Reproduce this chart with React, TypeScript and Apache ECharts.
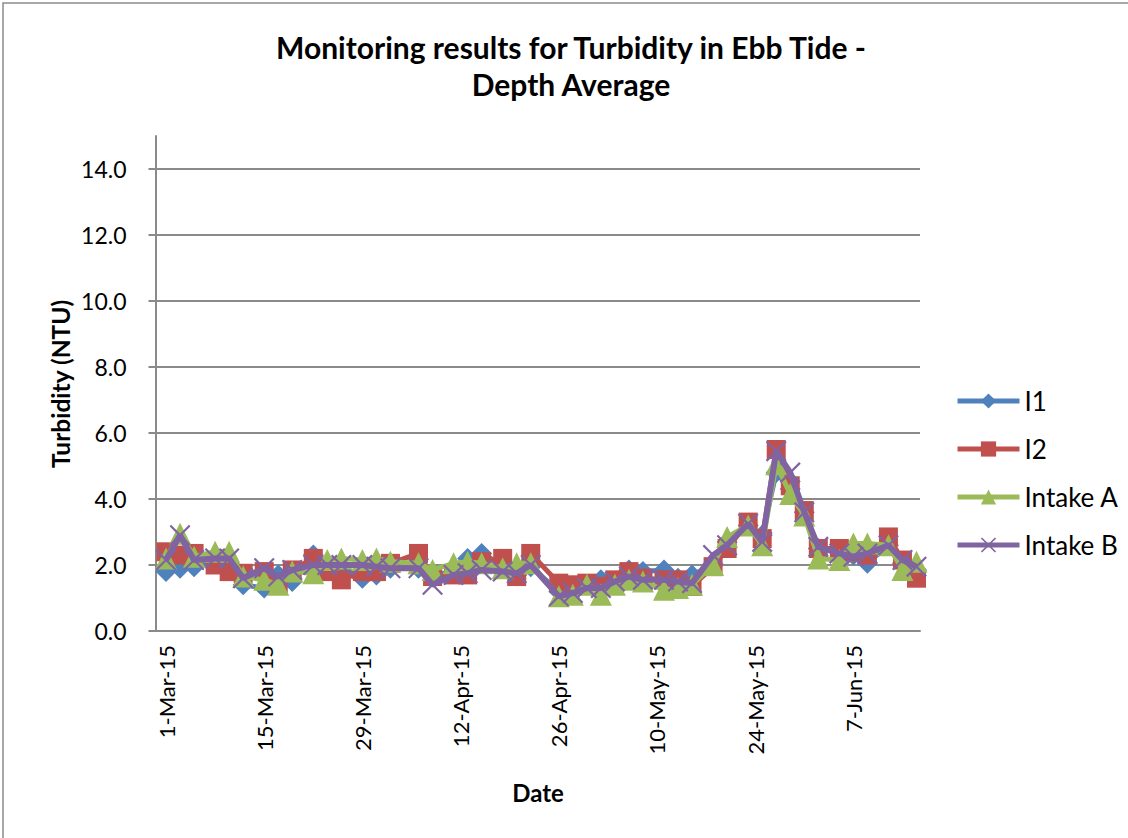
import React, { useEffect, useRef } from 'react';
import * as echarts from 'echarts';

// Sampling dates
const sampleDates = [
  '2015-03-01', '2015-03-03', '2015-03-05', '2015-03-08', '2015-03-10', '2015-03-12',
  '2015-03-15', '2015-03-17', '2015-03-19', '2015-03-22', '2015-03-24', '2015-03-26',
  '2015-03-29', '2015-03-31', '2015-04-02', '2015-04-06', '2015-04-08', '2015-04-11',
  '2015-04-13', '2015-04-15', '2015-04-18', '2015-04-20', '2015-04-22', '2015-04-26',
  '2015-04-28', '2015-04-30', '2015-05-02', '2015-05-04', '2015-05-06', '2015-05-08',
  '2015-05-11', '2015-05-13', '2015-05-15', '2015-05-18', '2015-05-20', '2015-05-23',
  '2015-05-25', '2015-05-27', '2015-05-29', '2015-05-31', '2015-06-02', '2015-06-05',
  '2015-06-07', '2015-06-09', '2015-06-12', '2015-06-14', '2015-06-16',
];

const seriesI1 = [
  1.8, 1.9, 1.95, 2.1, 2.05, 1.4, 1.3, 1.7, 1.5, 2.3, 1.95, 1.95,
  1.6, 1.7, 1.9, 1.9, 1.75, 1.75, 2.2, 2.35, 2.0, 1.7, 1.95, 1.2,
  1.25, 1.4, 1.55, 1.5, 1.85, 1.8, 1.85, 1.6, 1.7, 2.0, 2.7, 3.2,
  2.9, 4.8, 4.3, 3.6, 2.5, 2.45, 2.3, 2.05, 2.6, 2.05, 1.85,
];
const seriesI2 = [
  2.4, 2.3, 2.35, 2.0, 1.8, 1.75, 1.8, 1.4, 1.85, 2.2, 1.8, 1.55,
  1.8, 1.8, 2.05, 2.35, 1.65, 1.7, 1.7, 2.1, 2.2, 1.65, 2.35, 1.45,
  1.4, 1.45, 1.35, 1.55, 1.8, 1.6, 1.55, 1.55, 1.35, 1.95, 2.5, 3.3,
  2.8, 5.5, 4.4, 3.65, 2.5, 2.5, 2.4, 2.3, 2.85, 2.15, 1.6,
];
const seriesIntakeA = [
  2.2, 2.95, 2.25, 2.4, 2.4, 1.65, 1.55, 1.4, 1.8, 1.75, 2.15, 2.2,
  2.15, 2.2, 2.1, 2.05, 1.85, 2.05, 2.1, 2.05, 1.9, 2.05, 2.05, 1.05,
  1.1, 1.4, 1.1, 1.4, 1.55, 1.5, 1.25, 1.3, 1.4, 2.0, 2.85, 3.2,
  2.6, 5.05, 4.15, 3.5, 2.2, 2.15, 2.65, 2.65, 2.6, 1.85, 2.1,
];
const seriesIntakeB = [
  2.15, 2.9, 2.15, 2.2, 2.2, 1.6, 1.9, 1.65, 1.85, 2.0, 2.0, 2.0,
  2.0, 1.95, 1.9, 1.9, 1.4, 1.7, 1.75, 1.85, 1.8, 1.75, 2.0, 1.05,
  1.15, 1.3, 1.3, 1.5, 1.65, 1.55, 1.55, 1.5, 1.45, 2.3, 2.6, 3.25,
  2.7, 5.45, 4.8, 3.6, 2.55, 2.35, 2.25, 2.35, 2.6, 2.15, 1.95,
];

const seriesNames = ['I1', 'I2', 'Intake A', 'Intake B'];
const tickDates = [
  '2015-03-01', '2015-03-15', '2015-03-29', '2015-04-12',
  '2015-04-26', '2015-05-10', '2015-05-24', '2015-06-07',
];
const yTicks = [0, 2, 4, 6, 8, 10, 12, 14];

const BASE = Date.UTC(2015, 2, 1);
const DAY = 86400000;
const MONTHS = ['Jan', 'Feb', 'Mar', 'Apr', 'May', 'Jun', 'Jul', 'Aug', 'Sep', 'Oct', 'Nov', 'Dec'];
const toDay = (s: string) => {
  const [y, m, d] = s.split('-').map(Number);
  return Math.round((Date.UTC(y, m - 1, d) - BASE) / DAY);
};
const fmtDate = (v: number) => {
  const dt = new Date(BASE + Math.round(v) * DAY);
  return `${dt.getUTCDate()}-${MONTHS[dt.getUTCMonth()]}-${String(dt.getUTCFullYear()).slice(2)}`;
};

const X_SYMBOL =
  'path://M1.5,0L10,8.5L18.5,0L20,1.5L11.5,10L20,18.5L18.5,20L10,11.5L1.5,20L0,18.5L8.5,10L0,1.5Z';

const FONT = 'Lato, "Liberation Sans", sans-serif';
const GRID_COLOR = '#8a8a8a';

export default function App() {
  const ref = useRef<HTMLDivElement>(null);

  useEffect(() => {
    if (!ref.current) return;
    const chart = echarts.init(ref.current, undefined, { renderer: 'svg' });
    const days = sampleDates.map(toDay);
    const pair = (vals: number[]) => vals.map((v, i) => [days[i], v]);

    const colors = ['#4F81BD', '#C0504D', '#9BBB59', '#8064A2'];
    const symbols = ['diamond', 'rect', 'triangle', X_SYMBOL];
    const sizes = [21, 19, 22, 21];
    const widths = [5, 5, 5, 6];
    const values = [seriesI1, seriesI2, seriesIntakeA, seriesIntakeB];

    chart.setOption({
      animation: false,
      backgroundColor: '#ffffff',
      legend: {
        orient: 'vertical',
        left: 950,
        top: 381,
        itemWidth: 62,
        itemHeight: 19,
        itemGap: 18,
        data: seriesNames,
        lineStyle: { width: 5 },
        textStyle: { fontFamily: FONT, fontSize: 26, color: '#000', lineHeight: 30 },
      },
      grid: { left: 155.5, right: 208, top: 136, bottom: 207, containLabel: false },
      xAxis: {
        type: 'value',
        min: -1.5,
        max: 107.5,
        axisLine: { show: true, onZero: false, lineStyle: { color: GRID_COLOR, width: 2 } },
        axisTick: { show: false },
        splitLine: { show: false },
        axisLabel: {
          customValues: tickDates.map(toDay),
          formatter: (v: number) => fmtDate(v),
          rotate: 90,
          margin: 14,
          fontFamily: FONT,
          fontSize: 22,
          color: '#000',
        },
      },
      yAxis: {
        type: 'value',
        min: 0,
        max: 15,
        interval: 2,
        axisLine: { show: true, onZero: false, lineStyle: { color: GRID_COLOR, width: 2 } },
        axisTick: {
          show: true,
          length: 7,
          customValues: yTicks,
          lineStyle: { color: GRID_COLOR, width: 2 },
        },
        splitLine: { show: true, lineStyle: { color: GRID_COLOR, width: 2 } },
        axisLabel: {
          customValues: yTicks,
          formatter: (v: number) => v.toFixed(1),
          margin: 29,
          fontFamily: FONT,
          fontSize: 23,
          color: '#000',
        },
      },
      graphic: [
        {
          type: 'rect',
          shape: { x: 3, y: 3, width: 1140, height: 850 },
          style: { fill: 'none', stroke: '#8c8c8c', lineWidth: 1.5 },
          silent: true,
        },
        {
          type: 'text',
          x: 571,
          y: 47,
          style: {
            text: 'Monitoring results for Turbidity in Ebb Tide -',
            align: 'center',
            verticalAlign: 'middle',
            fontFamily: FONT,
            fontSize: 30,
            fontWeight: 'bold',
            fill: '#000',
          },
        },
        {
          type: 'text',
          x: 571,
          y: 84,
          style: {
            text: 'Depth Average',
            align: 'center',
            verticalAlign: 'middle',
            fontFamily: FONT,
            fontSize: 30,
            fontWeight: 'bold',
            fill: '#000',
          },
        },
        {
          type: 'text',
          x: 60,
          y: 384,
          rotation: Math.PI / 2,
          style: {
            text: 'Turbidity (NTU)',
            align: 'center',
            verticalAlign: 'middle',
            fontFamily: FONT,
            fontSize: 24.5,
            fontWeight: 'bold',
            fill: '#000',
          },
        },
        {
          type: 'text',
          x: 538,
          y: 792,
          style: {
            text: 'Date',
            align: 'center',
            verticalAlign: 'middle',
            fontFamily: FONT,
            fontSize: 24,
            fontWeight: 'bold',
            fill: '#000',
          },
        },
      ],
      series: seriesNames.map((name, k) => ({
        name,
        type: 'line',
        data: pair(values[k]),
        z: 2 + k,
        symbol: symbols[k],
        symbolSize: sizes[k],
        showSymbol: true,
        showAllSymbol: true,
        lineStyle: { color: colors[k], width: widths[k] },
        itemStyle: { color: colors[k] },
        emphasis: { disabled: true },
      })),
    });

    return () => chart.dispose();
  }, []);

  return (
    <div
      ref={ref}
      style={{ position: 'absolute', left: 0, top: 0, width: 1128, height: 838 }}
    />
  );
}
